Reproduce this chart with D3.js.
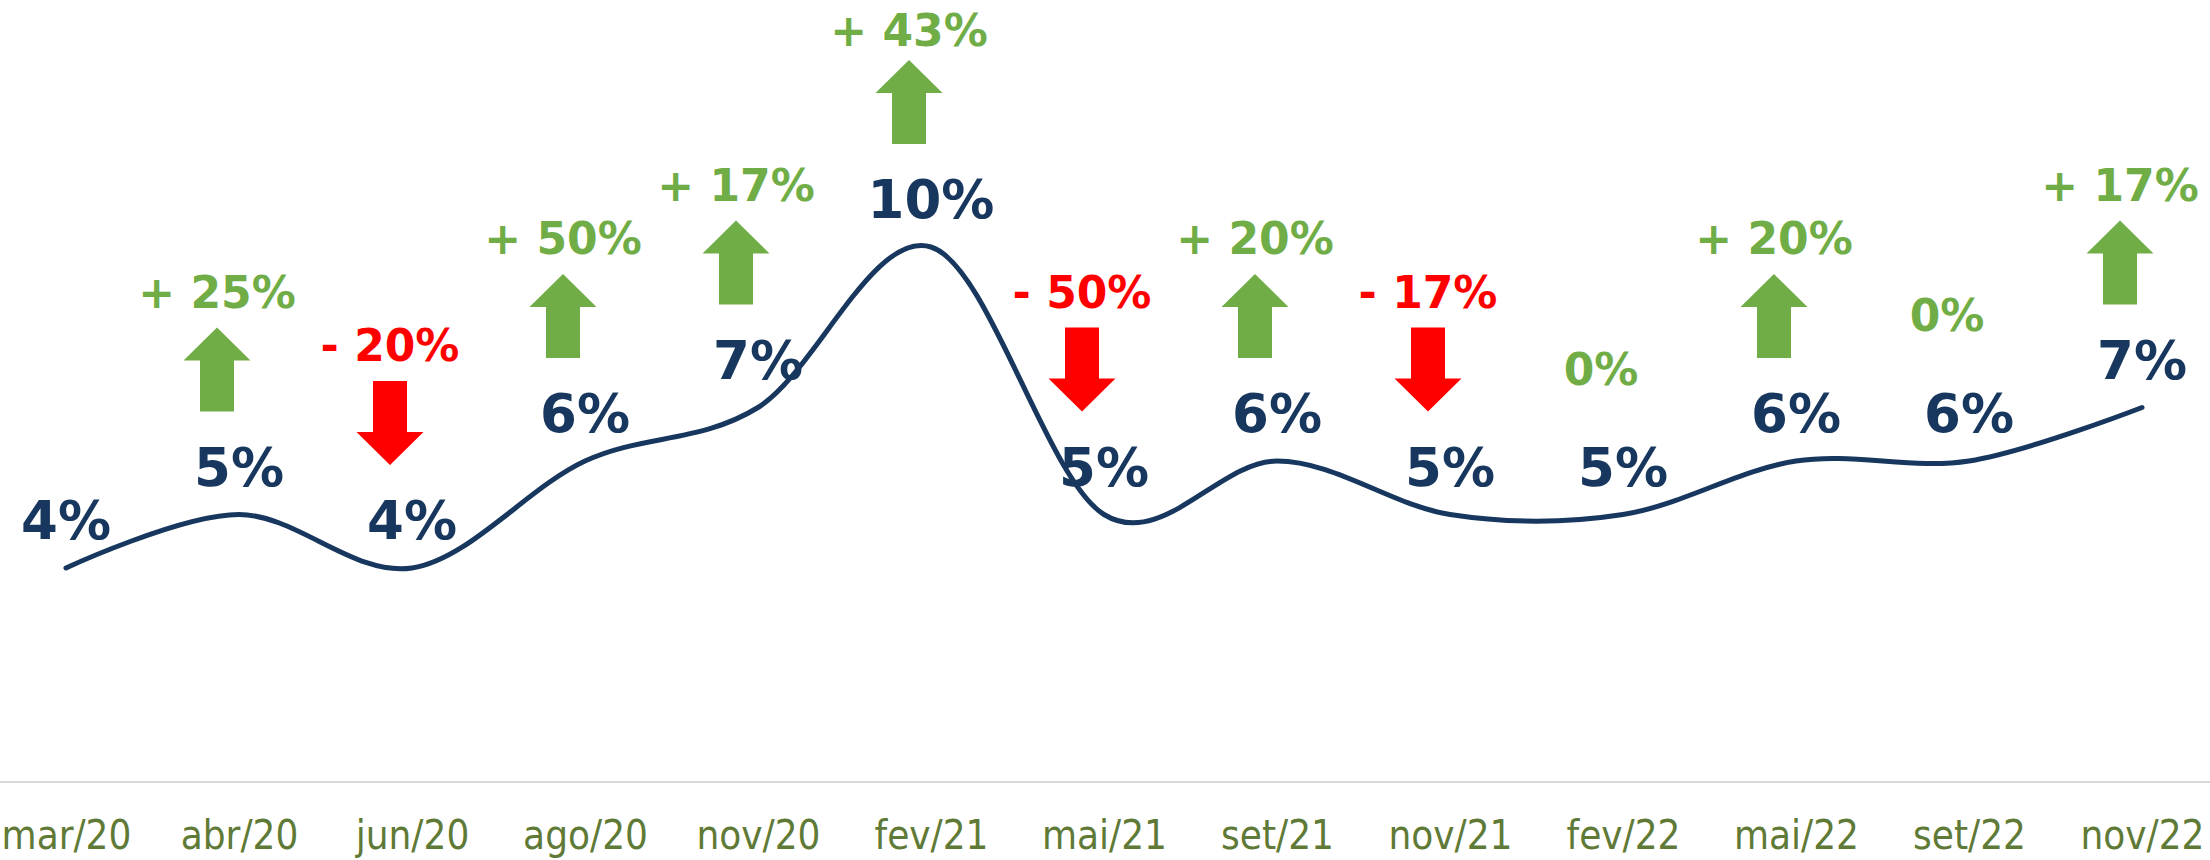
<!DOCTYPE html>
<meta charset="utf-8">
<style>
body{ margin:0; background:#fff; }
.axis text{
  font-family:"DejaVu Sans Condensed","DejaVu Sans",sans-serif;
  font-stretch:condensed;
  font-size:40px;
  fill:#5f7a36;
}
.axis .domain{ display:none; }
.baseline{ stroke:#d9d9d9; stroke-width:2px; }
.rate{
  font-family:"DejaVu Sans",sans-serif;
  font-weight:bold;
  font-size:53px;
  fill:#17375e;
  text-anchor:middle;
}
.change{
  font-family:"DejaVu Sans",sans-serif;
  font-weight:bold;
  font-size:44px;
  text-anchor:middle;
}
.trend{ fill:none; stroke:#17375e; stroke-width:5px; stroke-linecap:round; }
</style>
<body>
<script src="https://d3js.org/d3.v7.min.js"></script>
<script>

// months on the x axis
var months = ['mar/20','abr/20','jun/20','ago/20','nov/20','fev/21','mai/21',
              'set/21','nov/21','fev/22','mai/22','set/22','nov/22'];
// rate in %
var rates = [4, 5, 4, 6, 7, 10, 5, 6, 5, 5, 6, 6, 7];
// change vs previous month, in % (as printed)
var changes = [null, 25, -20, 50, 17, 43, -50, 20, -17, 0, 20, 0, 17];

var W = 2210, H = 860;
var up = "#70ad47", down = "#ff0000";

var svg = d3.select("body").append("svg").attr("width", W).attr("height", H);

var x = d3.scalePoint().domain(months).range([66, 2142]);
var y = d3.scaleLinear().domain([0, 14]).range([782, 33]);

// axis
svg.append("line").attr("class","baseline")
  .attr("x1", 0).attr("x2", W).attr("y1", y(0)).attr("y2", y(0));

svg.append("g").attr("class","axis")
  .attr("transform","translate(0," + y(0) + ")")
  .call(d3.axisBottom(x).tickSize(0).tickPadding(39))
  .attr("font-family", null).attr("font-size", null);

var data = months.map(function(m, i){ return {m:m, v:rates[i], c:changes[i]}; });

// smoothed line
var line = d3.line()
  .x(d => x(d.m))
  .y(d => y(d.v))
  .curve(d3.curveCatmullRom.alpha(0));

svg.append("path").datum(data).attr("class","trend").attr("d", line);

// value labels
svg.selectAll(".rate").data(data).enter().append("text")
  .attr("class","rate")
  .attr("x", d => x(d.m))
  .attr("y", d => y(d.v) - 29)
  .text(d => d.v + "%");

// change annotations: arrow + label
var dx = -22;
var arrowW = 67, shaftW = 34, headH = 33, arrowH = 84, gapBelow = 103;

function arrowPath(cx, yLow, isUp){
  var t = yLow - arrowH, b = yLow, hw = arrowW/2, sw = shaftW/2;
  if (isUp) {
    return "M" + cx + "," + t + "L" + (cx+hw) + "," + (t+headH) + "L" + (cx+sw) + "," + (t+headH) +
      "L" + (cx+sw) + "," + b + "L" + (cx-sw) + "," + b + "L" + (cx-sw) + "," + (t+headH) +
      "L" + (cx-hw) + "," + (t+headH) + "Z";
  }
  return "M" + cx + "," + b + "L" + (cx+hw) + "," + (b-headH) + "L" + (cx+sw) + "," + (b-headH) +
    "L" + (cx+sw) + "," + t + "L" + (cx-sw) + "," + t + "L" + (cx-sw) + "," + (b-headH) +
    "L" + (cx-hw) + "," + (b-headH) + "Z";
}

var ann = data.filter(d => d.c !== null);

svg.selectAll(".arrow").data(ann.filter(d => d.c !== 0)).enter().append("path")
  .attr("class","arrow")
  .attr("fill", d => d.c > 0 ? up : down)
  .attr("d", d => arrowPath(x(d.m) + dx, y(d.v) - gapBelow, d.c > 0));

svg.selectAll(".change").data(ann).enter().append("text")
  .attr("class","change")
  .attr("x", d => x(d.m) + dx)
  .attr("y", d => d.c === 0 ? y(d.v) - 130 : Math.max(46, y(d.v) - gapBelow - arrowH - 20))
  .attr("fill", d => d.c < 0 ? down : up)
  .text(d => d.c === 0 ? "0%" : (d.c > 0 ? "+ " : "- ") + Math.abs(d.c) + "%");

</script>
</body>
